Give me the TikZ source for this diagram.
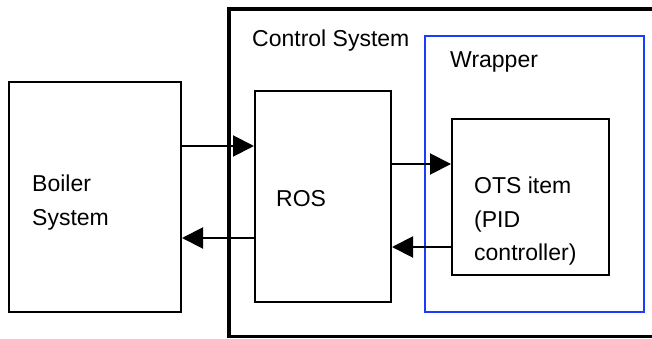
\documentclass[tikz,border=0pt]{standalone}
\usepackage{fontspec}
\setmainfont{Liberation Sans}
\usetikzlibrary{arrows.meta}
\definecolor{wrapblue}{RGB}{25,60,255}
\tikzset{
  box/.style={draw=black, line width=2pt, minimum width=#1, inner sep=0pt},
  lbl/.style={anchor=base west, inner sep=0pt, font=\fontsize{23}{27}\selectfont},
  arr/.style={line width=2pt, -{Triangle[length=21pt,width=21pt]}},
}
\begin{document}
\begin{tikzpicture}[x=1pt,y=-1pt]
\useasboundingbox (0,0) rectangle (652,339);
% outer control system frame (cut at right edge)
\draw[line width=3.5pt] (660,9) -- (229,9) -- (229,336.5) -- (660,336.5);
\node[box=172pt, minimum height=230pt] (boiler) at (95,197) {};
\node[box=136pt, minimum height=211pt] (ros) at (323,196.5) {};
\node[box=219pt, minimum height=276pt, draw=wrapblue] (wrap) at (534.5,174) {};
\node[box=157pt, minimum height=156pt] (ots) at (530.5,197) {};
\node[lbl] (tcs) at (252,47) {Control System};
\node[lbl] (twr) at (450,68) {Wrapper};
\node[lbl] (tb1) at (32,191) {Boiler};
\node[lbl] (tb2) at (32,225) {System};
\node[lbl] (tros) at (276,206) {ROS};
\node[lbl] (to1) at (474,193) {OTS item};
\node[lbl] (to2) at (474,227) {(PID};
\node[lbl] (to3) at (474,260) {controller)};
\draw[arr] (boiler.east |- 0,146) -- (ros.west |- 0,146);
\draw[arr] (ros.west |- 0,238) -- (boiler.east |- 0,238);
\draw[arr] (ros.east |- 0,164) -- (ots.west |- 0,164);
\draw[arr] (ots.west |- 0,247) -- (ros.east |- 0,247);
\end{tikzpicture}
\end{document}
